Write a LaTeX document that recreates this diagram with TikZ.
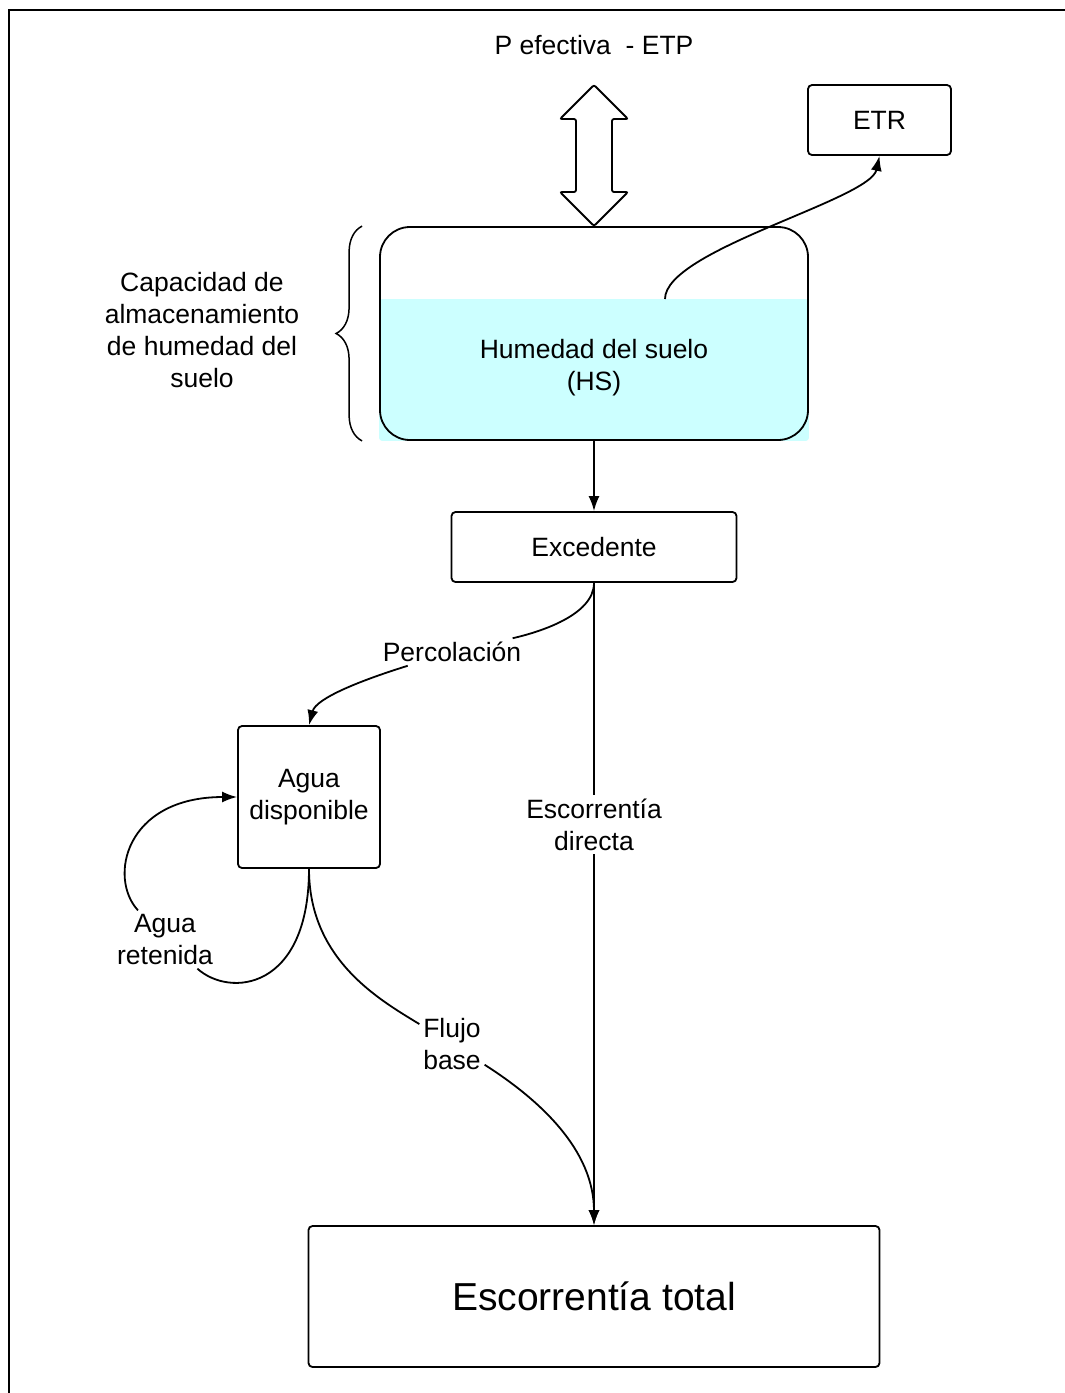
\documentclass[tikz,border=0pt]{standalone}
\usepackage{fontspec}
\setmainfont{Liberation Sans}
\usepackage{tikz}
\usetikzlibrary{arrows.meta,positioning,calc,backgrounds,decorations.pathreplacing}
\definecolor{hsfill}{HTML}{CCFFFF}

\begin{document}
\begin{tikzpicture}[x=1pt, y=-1pt, line width=1.8pt, >={Latex[length=15pt,width=11pt]}, font=\fontsize{26.5}{32}\selectfont]
\tikzstyle{box} = [rectangle, draw = black, rounded corners=4pt]
\tikzstyle{lbl} = [align=center, inner sep=3pt]
\useasboundingbox (0,0) rectangle (1065,1393);
\draw [line width=2.6pt] (9,1393) -- (9,10) -- (1065,10);

\node (titulo) at (594,45) {P efectiva\ \ - ETP};
\node (etr) [box, minimum width=143pt, minimum height=70pt] at (879.5,120) {ETR};
\node (hs) [box, rounded corners=30pt, minimum width=428pt, minimum height=213pt] at (594,333.5) {};
\coordinate (hsw) at (665,299);
\begin{scope}[on background layer]
\fill [hsfill, rounded corners=3pt] (hs.south west) rectangle (hs.east |- hsw);
\end{scope}
\node (hstxt) [lbl] at (594,368) {Humedad del suelo\\(HS)};
\node (capac) [lbl] at (202,330.5) {Capacidad de\\almacenamiento\\de humedad del\\suelo};
\node (exc) [box, minimum width=285pt, minimum height=70pt] at (594,547) {Excedente};
\node (ad) [box, minimum width=142pt, minimum height=142pt, align=center] at (309,797) {Agua\\disponible};
\node (tot) [box, minimum width=571pt, minimum height=141pt, font=\fontsize{39}{45}\selectfont] at (594,1296.5) {Escorrentía total};
\node (perc) [lbl] at (452,652) {Percolación};
\node (escdir) [lbl] at (594,824.5) {Escorrentía\\directa};
\node (ret) [lbl] at (165,939.5) {Agua\\retenida};
\node (flujo) [lbl] at (452,1044) {Flujo\\base};

% entrada / salida en la superficie
\draw [rounded corners=2pt] (594,85) -- (628,119) -- (612,119) -- (612,192) -- (628,192) -- (594,226) -- (560,192) -- (576,192) -- (576,119) -- (560,119) -- cycle;
\draw [decorate, decoration={brace, amplitude=26pt, aspect=0.5}, line width=1.5pt] ([xshift=-17pt]hs.south west) -- ([xshift=-17pt]hs.north west);

\draw [->] (hsw) .. controls (665,250) and (870,200) .. (etr.south);
\draw [->] (hs.south) -- (exc.north);
\draw (exc.south) -- (escdir);
\draw [->] (escdir) -- (tot.north);
\draw (exc.south) .. controls (594,615) and (540,632) .. (perc);
\draw [->] (perc) .. controls (362,680) and (316,698) .. (ad.north);
\draw (ad.south) .. controls (309,990) and (230,998) .. (ret);
\draw [->] (ret) .. controls (108,878) and (125,797) .. (ad.west);
\draw (ad.south) .. controls (309,960) and (380,1000) .. (flujo);
\draw [->] (flujo) .. controls (540,1100) and (594,1150) .. (tot.north);
\end{tikzpicture}
\end{document}
